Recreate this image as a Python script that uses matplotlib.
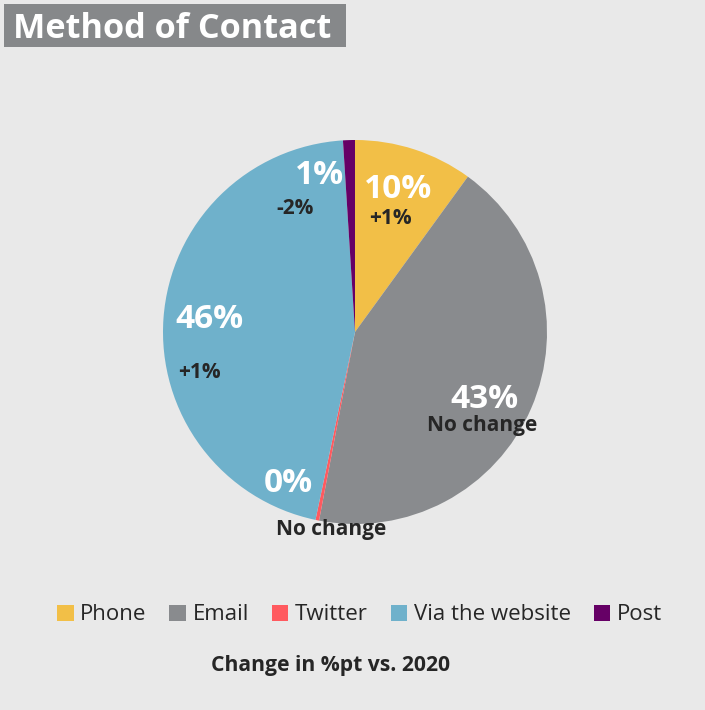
import matplotlib.pyplot as plt
from matplotlib.patches import Rectangle, Patch

plt.rcParams['font.family'] = ['Open Sans', 'DejaVu Sans']

# Contact method shares (%) and change in percentage points vs. 2020
categories = ['Phone', 'Email', 'Twitter', 'Via the website', 'Post']
shares = [10, 43, 0.3, 45.7, 1]
changes = ['+1%', 'No change', 'No change', '+1%', '-2%']
colors = ['#F2BF47', '#898B8E', '#FF5A5F', '#6FB1CB', '#660066']

W, H = 705, 710
BG = '#E9E9E9'
DARK = '#262626'

# label placement in pixels (x, y from top): share label, change label
share_pos = [(398, 190), (484, 399), (288, 484), (209, 320), (320, 175)]
change_pos = [(390, 218), (482, 425), (331, 529), (199, 373), (295, 208)]

fig = plt.figure(figsize=(W / 100, H / 100), dpi=100)
fig.patch.set_facecolor(BG)
ax = fig.add_axes([0, 0, 1, 1])

ax.pie(shares, colors=colors, startangle=90, counterclock=False,
       center=(355, H - 332), radius=192, frame=True,
       wedgeprops=dict(linewidth=0))
ax.set_xlim(0, W)
ax.set_ylim(0, H)
ax.set_aspect('equal')
ax.axis('off')

for val, (x, y) in zip(shares, share_pos):
    ax.text(x, H - y, f'{round(val):.0f}%', color='white', fontsize=24,
            fontweight='bold', ha='center', va='center')
for txt, (x, y) in zip(changes, change_pos):
    ax.text(x, H - y, txt, color=DARK, fontsize=15,
            fontweight='bold', ha='center', va='center')

# title block
ax.add_patch(Rectangle((4, H - 47), 342, 43, facecolor='#86888A',
                       edgecolor='none'))
ax.text(13, H - 29, 'Method of Contact', color='white', fontsize=24.7,
        fontweight='bold', ha='left', va='center')

handles = [Patch(facecolor=c, edgecolor='none', label=l)
           for c, l in zip(colors, categories)]
fig.legend(handles=handles, loc='center',
           bbox_to_anchor=(359.5 / W, 1 - 615 / H),
           ncol=5, frameon=False, fontsize=16, handlelength=0.75,
           handleheight=0.75, handletextpad=0.3, columnspacing=1.02,
           labelcolor=DARK)

ax.text(W / 2 - 22, H - 666, 'Change in %pt vs. 2020', color=DARK,
        fontsize=15.2, fontweight='bold', ha='center', va='center')

fig.savefig('out.png', dpi=100, facecolor=BG)
